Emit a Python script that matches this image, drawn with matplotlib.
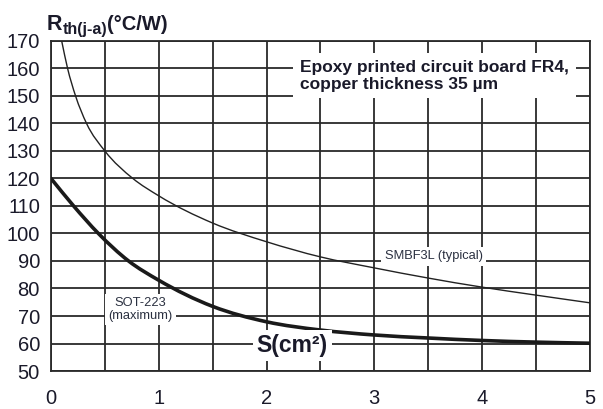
import matplotlib
matplotlib.use("Agg")
import matplotlib.pyplot as plt
from matplotlib.path import Path
from matplotlib.patches import PathPatch
import numpy as np

plt.rcParams['font.family'] = ['Liberation Sans', 'DejaVu Sans']

# SMBF3L (typical) - thin curve
smb_x = [0.099, 0.154, 0.228, 0.33, 0.5, 0.76, 1.0, 1.5, 2.0, 2.5, 3.0, 3.5, 4.0, 4.5, 5.0]
smb_y = [170, 160, 150, 140, 130, 120, 113.7, 103.8, 97, 91.5, 87.5, 83.8, 80.5, 77.6, 74.8]

# SOT-223 (maximum) - thick curve
sot_x = [0.0, 0.21, 0.44, 0.72, 1.0, 1.5, 2.0, 2.5, 3.0, 3.5, 4.0, 4.5, 5.0]
sot_y = [120, 110, 100, 90, 83, 73.5, 67.9, 64.9, 63.1, 62.0, 61.1, 60.5, 60.1]

x_ticks = np.arange(0, 5.01, 0.5)
x_labels = ['0', '', '1', '', '2', '', '3', '', '4', '', '5']
y_ticks = [50, 60, 70, 80, 90, 100, 110, 120, 130, 140, 150, 160, 170]


def smooth_path(xs, ys):
    """Smooth cubic Hermite curve through the read points, drawn as Bezier segments."""
    x = np.asarray(xs, float)
    y = np.asarray(ys, float)
    h = np.diff(x)
    d = np.diff(y) / h
    m = np.empty_like(x)
    m[0], m[-1] = d[0], d[-1]
    m[1:-1] = (d[:-1] * h[1:] + d[1:] * h[:-1]) / (h[:-1] + h[1:])
    verts = [(x[0], y[0])]
    codes = [Path.MOVETO]
    for i in range(len(h)):
        verts += [(x[i] + h[i] / 3, y[i] + m[i] * h[i] / 3),
                  (x[i + 1] - h[i] / 3, y[i + 1] - m[i + 1] * h[i] / 3),
                  (x[i + 1], y[i + 1])]
        codes += [Path.CURVE4] * 3
    return Path(verts, codes)


fig = plt.figure(figsize=(6.03, 4.09), dpi=100)
ax = fig.add_axes([0.0846, 0.0929, 0.978 - 0.0846, 0.8998 - 0.0929])

gc = '#2a2a2a'
tc = '#1a1a2a'
ax.set_xticks(x_ticks)
ax.set_xticklabels(x_labels)
ax.set_yticks(y_ticks)
ax.grid(True, color=gc, linewidth=1.3)
ax.set_axisbelow(True)
ax.set_xlim(0, 5)
ax.set_ylim(50, 170)
for s in ax.spines.values():
    s.set_color(gc)
    s.set_linewidth(1.3)

ax.tick_params(axis='both', length=0, labelsize=14.5, colors=tc)
ax.tick_params(axis='x', pad=13)
ax.tick_params(axis='y', pad=8)

ax.add_patch(PathPatch(smooth_path(smb_x, smb_y), facecolor='none', edgecolor='#222222',
                       linewidth=1.0, zorder=3, capstyle='round', joinstyle='round'))
ax.add_patch(PathPatch(smooth_path(sot_x, sot_y), facecolor='none', edgecolor='#1a1a1a',
                       linewidth=2.6, zorder=3, capstyle='round', joinstyle='round'))

bbox = dict(facecolor='white', edgecolor='none', pad=2.5)
ax.text(2.31, 157.3, 'Epoxy printed circuit board FR4,\ncopper thickness 35 µm',
        fontsize=12.5, fontweight='bold', color=tc, ha='left', va='center',
        linespacing=1.1, bbox=dict(facecolor='white', edgecolor='none', pad=5), zorder=4)
ax.text(3.55, 91.7, 'SMBF3L (typical)', fontsize=9.3, color='#2a3040',
        ha='center', va='center', bbox=bbox, zorder=4)
ax.text(0.83, 72.3, 'SOT-223\n(maximum)', fontsize=9.3, color='#2a3040',
        ha='center', va='center', linespacing=1.05, bbox=bbox, zorder=4)
ax.text(2.24, 59.2, 'S(cm²)', fontsize=16.5, fontweight='bold', color=tc,
        ha='center', va='center', bbox=dict(facecolor='white', edgecolor='none', pad=3), zorder=4)

# Y-axis unit label: R with subscript th(j-a), then (°C/W)
W, H = fig.get_size_inches() * fig.dpi
x0 = 47 / W
base = 1 - 30 / H
t1 = fig.text(x0, base, 'R', fontsize=15.5, fontweight='bold', color=tc, ha='left', va='baseline')
fig.canvas.draw()
r = fig.canvas.get_renderer()
x1 = t1.get_window_extent(r).x1 / W
t2 = fig.text(x1, base - 4 / H, 'th(j-a)', fontsize=11.5, fontweight='bold', color=tc,
              ha='left', va='baseline')
fig.canvas.draw()
x2 = t2.get_window_extent(r).x1 / W
fig.text(x2, base, '(°C/W)', fontsize=14.5, fontweight='bold', color=tc, ha='left', va='baseline')

fig.savefig('out.png', dpi=100)
